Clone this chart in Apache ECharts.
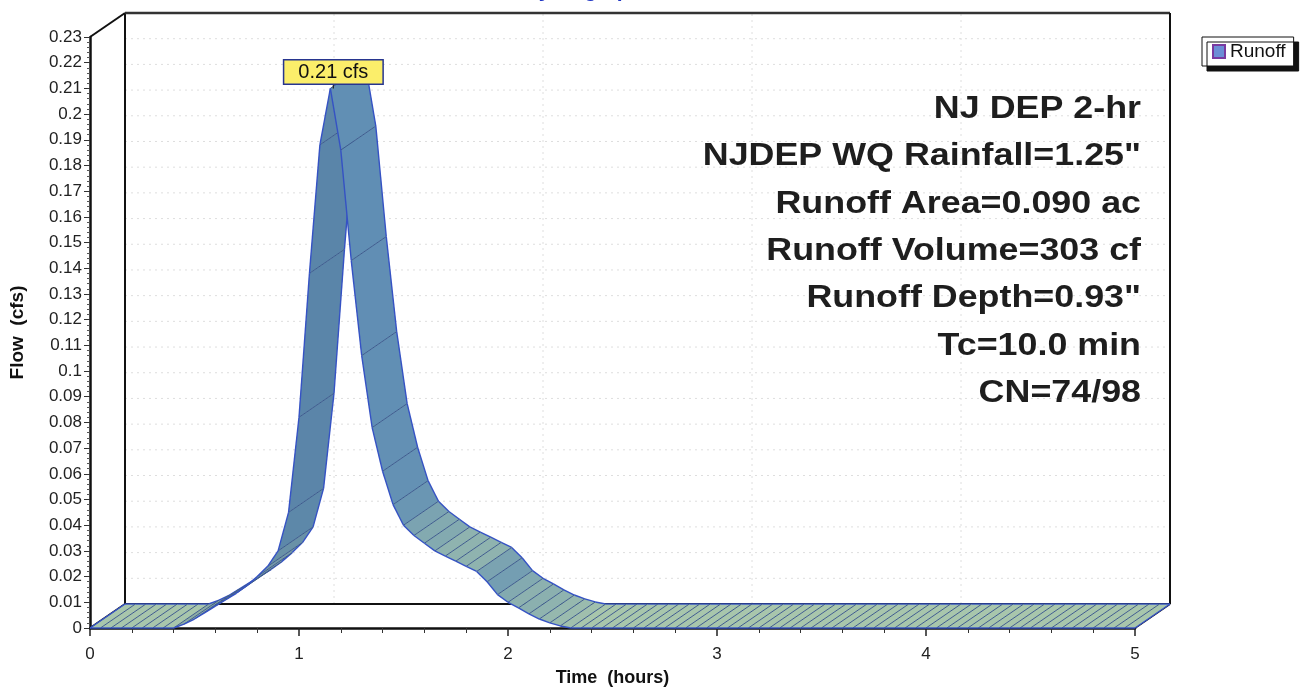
<!DOCTYPE html>
<html>
<head>
<meta charset="utf-8">
<title>Hydrograph</title>
<script src="https://cdn.jsdelivr.net/npm/echarts@6/dist/echarts.min.js"></script>
<style>
  html, body { margin: 0; padding: 0; background: #ffffff; }
  #chart { width: 1305px; height: 692px; }
</style>
</head>
<body>
<div id="chart"></div>
<script>
// Runoff hydrograph, 0.05 hr time step
const hours = [
  0.00, 0.05, 0.10, 0.15, 0.20, 0.25, 0.30, 0.35, 0.40, 0.45,
  0.50, 0.55, 0.60, 0.65, 0.70, 0.75, 0.80, 0.85, 0.90, 0.95,
  1.00, 1.05, 1.10, 1.15, 1.20, 1.25, 1.30, 1.35, 1.40, 1.45,
  1.50, 1.55, 1.60, 1.65, 1.70, 1.75, 1.80, 1.85, 1.90, 1.95,
  2.00, 2.05, 2.10, 2.15, 2.20, 2.25, 2.30, 2.35, 2.40, 2.45,
  2.50, 2.55, 2.60, 2.65, 2.70, 2.75, 2.80, 2.85, 2.90, 2.95,
  3.00, 3.05, 3.10, 3.15, 3.20, 3.25, 3.30, 3.35, 3.40, 3.45,
  3.50, 3.55, 3.60, 3.65, 3.70, 3.75, 3.80, 3.85, 3.90, 3.95,
  4.00, 4.05, 4.10, 4.15, 4.20, 4.25, 4.30, 4.35, 4.40, 4.45,
  4.50, 4.55, 4.60, 4.65, 4.70, 4.75, 4.80, 4.85, 4.90, 4.95,
  5.00
];
const runoffCfs = [
  0, 0, 0, 0, 0, 0, 0, 0, 0, 0.0015,
  0.0035, 0.006, 0.0085, 0.011, 0.0135, 0.0165, 0.020, 0.024, 0.030, 0.045,
  0.082, 0.138, 0.188, 0.210, 0.186, 0.143, 0.106, 0.078, 0.061, 0.048,
  0.040, 0.036, 0.033, 0.030, 0.028, 0.026, 0.024, 0.022, 0.018, 0.013,
  0.010, 0.0078, 0.0055, 0.0035, 0.002, 0.0008, 0, 0, 0, 0,
  0, 0, 0, 0, 0, 0, 0, 0, 0, 0,
  0, 0, 0, 0, 0, 0, 0, 0, 0, 0,
  0, 0, 0, 0, 0, 0, 0, 0, 0, 0,
  0, 0, 0, 0, 0, 0, 0, 0, 0, 0,
  0, 0, 0, 0, 0, 0, 0, 0, 0, 0,
  0
];
const seriesName = 'Runoff';
const peakUnit = 'cfs';
const stormLines = [
  'NJ DEP 2-hr',
  'NJDEP WQ Rainfall=1.25"',
  'Runoff Area=0.090 ac',
  'Runoff Volume=303 cf',
  'Runoff Depth=0.93"',
  'Tc=10.0 min',
  'CN=74/98'
];
const chartTitle = 'Hydrograph';
const xAxisName = 'Time  (hours)';
const yAxisName = 'Flow  (cfs)';
const X_MIN = 0, X_MAX = 5, X_STEP = 1;
const Y_MIN = 0, Y_MAX = 0.23, Y_STEP = 0.01;

// 3D depth offset of the back plane, in pixels
const DEPTH = [35, -24];
const FONT = '"Liberation Sans", Arial, sans-serif';

const segments = [];
for (let i = 0; i < hours.length - 1; i++) {
  segments.push([hours[i], runoffCfs[i], hours[i + 1], runoffCfs[i + 1]]);
}
let peakIdx = 0;
runoffCfs.forEach((v, i) => { if (v > runoffCfs[peakIdx]) peakIdx = i; });

const back = p => [p[0] + DEPTH[0], p[1] + DEPTH[1]];
const mix = (a, b, t) => a.map((c, k) => Math.round(c + (b[k] - c) * t));
const FLAT = [168, 198, 172];
const STEEP = [96, 142, 180];

function renderRibbon(params, api) {
  const p0 = api.coord([api.value(0), api.value(1)]);
  const p1 = api.coord([api.value(2), api.value(3)]);
  const b0 = back(p0), b1 = back(p1);
  const dx = p1[0] - p0[0], dy = p1[1] - p0[1];
  const s = Math.abs(dy) / Math.hypot(dx, dy);
  let c = mix(FLAT, STEEP, Math.pow(s, 1.3));
  if (dy < 0) c = c.map(v => Math.round(v * 0.94));
  const edge = { stroke: '#3552c4', lineWidth: 1.4 };
  const hatch = { stroke: '#3e5b8e', lineWidth: 1 };
  const children = [
    { type: 'polygon', shape: { points: [p0, p1, b1, b0] },
      style: { fill: 'rgb(' + c.join(',') + ')', stroke: null } },
    { type: 'line', shape: { x1: p0[0], y1: p0[1], x2: b0[0], y2: b0[1] }, style: hatch },
    { type: 'line', shape: { x1: p0[0], y1: p0[1], x2: p1[0], y2: p1[1] }, style: edge },
    { type: 'line', shape: { x1: b0[0], y1: b0[1], x2: b1[0], y2: b1[1] }, style: edge }
  ];
  if (params.dataIndex === segments.length - 1) {
    children.push({ type: 'line', shape: { x1: p1[0], y1: p1[1], x2: b1[0], y2: b1[1] }, style: edge });
  }
  if (params.dataIndex === 0) {
    children.push({ type: 'line', shape: { x1: p0[0], y1: p0[1], x2: b0[0], y2: b0[1] }, style: edge });
  }
  return { type: 'group', children };
}

function renderWall(params, api) {
  const children = [];
  const dotted = { stroke: '#dedede', lineWidth: 1, lineDash: [2, 4] };
  for (let k = 1; k * Y_STEP < Y_MAX - 1e-9; k++) {
    const a = back(api.coord([X_MIN, k * Y_STEP])), b = back(api.coord([X_MAX, k * Y_STEP]));
    children.push({ type: 'line', shape: { x1: a[0], y1: a[1], x2: b[0], y2: b[1] }, style: dotted });
  }
  for (let t = X_MIN + X_STEP; t < X_MAX; t += X_STEP) {
    const a = back(api.coord([t, Y_MIN])), b = back(api.coord([t, Y_MAX]));
    children.push({ type: 'line', shape: { x1: a[0], y1: a[1], x2: b[0], y2: b[1] }, style: dotted });
  }
  const fo = api.coord([X_MIN, Y_MIN]), ft = api.coord([X_MIN, Y_MAX]), fr = api.coord([X_MAX, Y_MIN]);
  const bo = back(fo), bt = back(ft), br = back(fr), btr = back(api.coord([X_MAX, Y_MAX]));
  const frame = { stroke: '#111', lineWidth: 2 };
  const seg = (a, b, st) => ({ type: 'line', shape: { x1: a[0], y1: a[1], x2: b[0], y2: b[1] }, style: st || frame });
  children.push(seg(bo, bt), seg(bt, btr, { stroke: '#333', lineWidth: 2.5 }), seg(btr, br), seg(bo, br), seg(ft, bt), seg(fo, bo), seg(fr, br));
  return { type: 'group', children };
}

function renderPeak(params, api) {
  const p = api.coord([api.value(0), api.value(1)]);
  const label = api.value(1).toFixed(2) + ' ' + peakUnit;
  return {
    type: 'group',
    children: [
      { type: 'line', shape: { x1: p[0] + 3, y1: p[1], x2: p[0] + 3, y2: p[1] - 8 }, style: { stroke: '#222', lineWidth: 1.2 } },
      { type: 'text', x: p[0] + 3, y: p[1] - 5,
        style: { text: label, font: '20px ' + FONT, fill: '#111', align: 'center', verticalAlign: 'bottom',
                 backgroundColor: '#fbee6a', borderColor: '#27358f', borderWidth: 1.5, padding: [2, 14, 1, 14] } }
    ]
  };
}

const chart = echarts.init(document.getElementById('chart'), null, { renderer: 'canvas' });

const textGraphics = stormLines.map((line, i) => ({
  type: 'text',
  x: 1141, y: 109 + i * 47.4,
  scaleX: 1.12, originX: 0, originY: 0,
  style: { text: line, font: 'bold 32px ' + FONT, fill: '#1e1e1e', align: 'right', verticalAlign: 'middle' },
  z: 10
}));

chart.setOption({
  animation: false,
  backgroundColor: '#ffffff',
  textStyle: { fontFamily: FONT },
  grid: { left: 90, right: 170, top: 37, bottom: 61, containLabel: false },
  legend: {
    data: [{ name: seriesName, icon: 'rect' }],
    left: 1202, top: 37,
    orient: 'vertical',
    backgroundColor: '#ffffff',
    borderColor: '#111', borderWidth: 1,
    shadowColor: '#111', shadowOffsetX: 5, shadowOffsetY: 5, shadowBlur: 0,
    padding: [5, 8, 5, 10],
    itemWidth: 12, itemHeight: 13, itemGap: 4,
    textStyle: { fontSize: 19, color: '#111', fontFamily: FONT, padding: [0, 0, 0, 0] },
    selectedMode: false
  },
  graphic: [
    { type: 'text', x: 583, y: -19,
      style: { text: chartTitle, font: 'bold 21px ' + FONT, fill: '#2036c4', align: 'center', verticalAlign: 'top' } }
  ].concat(textGraphics),
  xAxis: {
    type: 'value', min: X_MIN, max: X_MAX, interval: X_STEP,
    name: xAxisName, nameLocation: 'middle', nameGap: 41,
    nameTextStyle: { fontSize: 18, fontWeight: 'bold', color: '#111', fontFamily: FONT },
    axisLine: { show: true, lineStyle: { color: '#111', width: 2.5 } },
    axisTick: { show: true, length: 8, lineStyle: { color: '#222', width: 1.5 } },
    minorTick: { show: true, splitNumber: 5, length: 5, lineStyle: { color: '#333', width: 1 } },
    axisLabel: { fontSize: 17, color: '#222', margin: 18, fontFamily: FONT },
    splitLine: { show: false }
  },
  yAxis: {
    type: 'value', min: Y_MIN, max: Y_MAX, interval: Y_STEP,
    name: yAxisName, nameLocation: 'middle', nameGap: 63, nameRotate: 90,
    nameTextStyle: { fontSize: 19, fontWeight: 'bold', color: '#111', fontFamily: FONT },
    axisLine: { show: true, lineStyle: { color: '#111', width: 2.5 } },
    axisTick: { show: true, length: 6, lineStyle: { color: '#333', width: 1 } },
    minorTick: { show: true, splitNumber: 5, length: 3, lineStyle: { color: '#555', width: 1 } },
    axisLabel: { fontSize: 17, color: '#222', margin: 8, fontFamily: FONT,
                 formatter: v => String(+v.toFixed(2)) },
    splitLine: { show: false }
  },
  series: [
    { type: 'custom', name: 'wall', renderItem: renderWall, data: [[0, 0]], z: 1, silent: true,
      encode: { x: 0, y: 1 }, clip: false },
    { type: 'custom', name: seriesName, renderItem: renderRibbon, data: segments, z: 3,
      itemStyle: { color: '#6c8ed6', borderColor: '#7a3aa0', borderWidth: 1 },
      encode: { x: [0, 2], y: [1, 3] }, clip: false },
    { type: 'custom', name: 'peak', renderItem: renderPeak, data: [[hours[peakIdx], runoffCfs[peakIdx]]], z: 5,
      encode: { x: 0, y: 1 }, clip: false, silent: true }
  ]
});
</script>
</body>
</html>
